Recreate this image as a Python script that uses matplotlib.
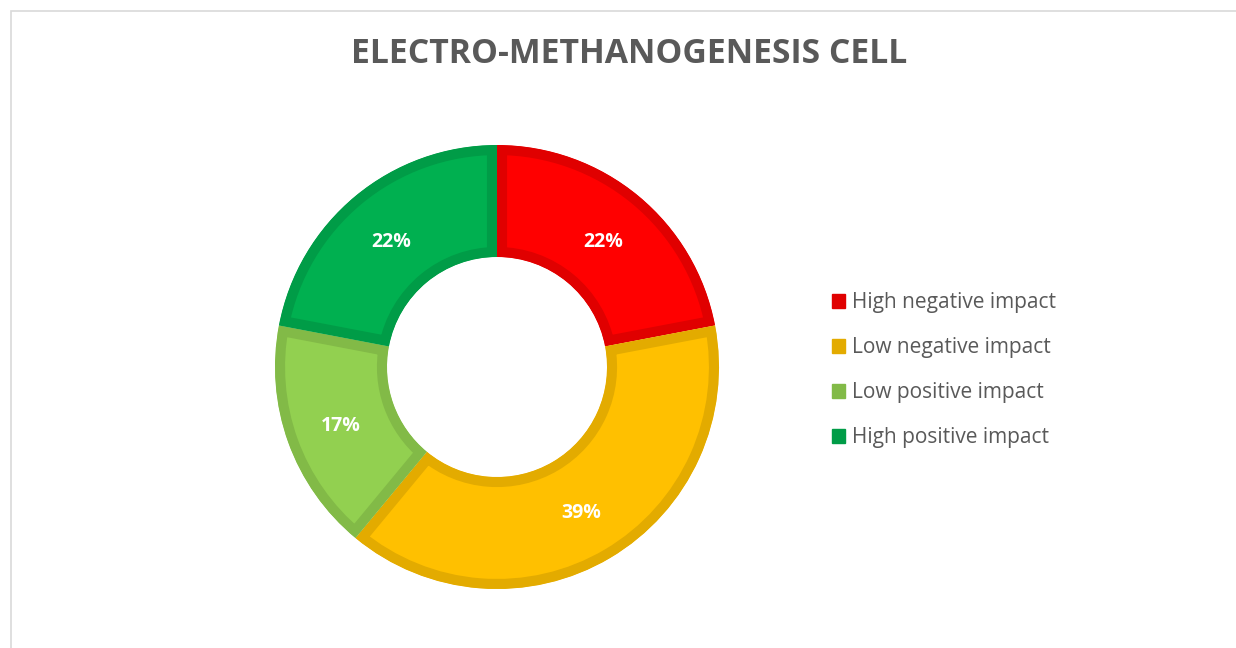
import matplotlib
matplotlib.use("Agg")
import matplotlib.pyplot as plt
from matplotlib.patches import Patch, Rectangle

labels = ["High negative impact", "Low negative impact", "Low positive impact", "High positive impact"]
values = [22, 39, 17, 22]
fill_colors = ["#FF0000", "#FFC000", "#92D050", "#00B050"]
edge_colors = ["#E00000", "#E3AB00", "#82BA47", "#009C47"]

W, H = 1236, 648
fig = plt.figure(figsize=(W / 100, H / 100), dpi=100)
ax = fig.add_axes([0, 0, 1, 1])

# light frame around the chart area
fig.add_artist(Rectangle((11, -20), W, H - 11 + 20, transform=None, fill=False,
                         edgecolor="#D9D9D9", linewidth=1.2))

outer_r = 222
inner_r = 110
cx, cy = 497, H - 367

wedges, texts, autotexts = ax.pie(values, colors=fill_colors, startangle=90, counterclock=False,
                                  radius=outer_r, center=(cx, cy),
                                  autopct="%.0f%%", pctdistance=(outer_r + inner_r) / 2 / outer_r,
                                  wedgeprops=dict(width=outer_r - inner_r, linewidth=14.5),
                                  textprops=dict(color="white", fontsize=14, fontweight="bold",
                                                 family="Open Sans"))
ax.set_xlim(0, W)
ax.set_ylim(0, H)
ax.set_aspect("equal")
ax.axis("off")

# darker stroke drawn only inside each slice (pie turns clipping off, so turn it back on)
for w, ec in zip(wedges, edge_colors):
    w.set_edgecolor(ec)
    w.set_joinstyle("miter")
    w.set_clip_on(True)
    w.set_clip_path(w.get_path(), ax.transData)

for t in autotexts:
    x, y = t.get_position()
    t.set_position((x, y - 3))

fig.text(629 / W, 1 - 54 / H, "ELECTRO-METHANOGENESIS CELL", ha="center", va="center",
         fontsize=24.3, fontweight="bold", color="#595959", family="Open Sans")

handles = [Patch(facecolor=c, edgecolor=c) for c in edge_colors]
leg = fig.legend(handles, labels, loc="center left", bbox_to_anchor=(813 / W, 1 - 370 / H),
                 frameon=False, labelspacing=1.15, handlelength=0.65,
                 handleheight=0.65, handletextpad=0.3, prop=dict(family="Open Sans", size=15))
for t in leg.get_texts():
    t.set_color("#595959")

fig.savefig("out.png", dpi=100)
